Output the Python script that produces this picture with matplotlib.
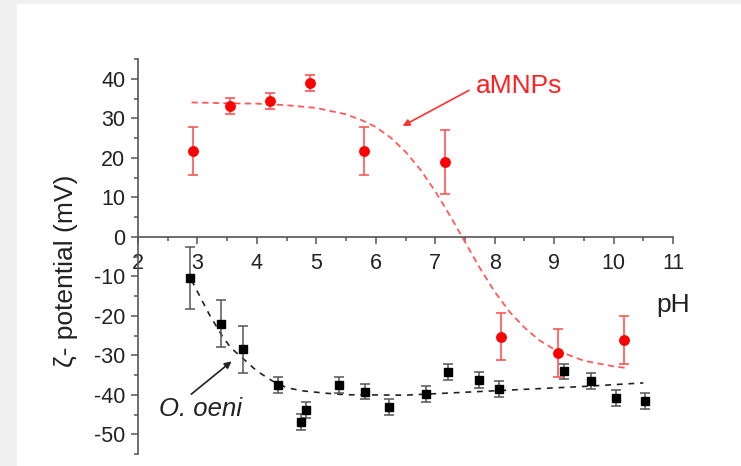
import matplotlib
matplotlib.use("Agg")
import matplotlib.pyplot as plt
from matplotlib.patches import Rectangle
from matplotlib.ticker import MultipleLocator

plt.rcParams['font.family'] = ['Liberation Sans', 'DejaVu Sans']
plt.rcParams['axes.unicode_minus'] = False

# aMNPs (red) measured points
red_ph = [2.93, 3.54, 4.22, 4.90, 5.81, 7.16, 8.10, 9.06, 10.18]
red_zeta = [21.7, 33.2, 34.4, 38.9, 21.7, 18.9, -25.3, -29.4, -26.2]
red_err = [6.0, 2.0, 2.1, 2.1, 6.0, 8.0, 6.0, 6.0, 6.1]

# aMNPs fitted curve
red_fit_ph = [2.9, 3.5, 4.0, 4.5, 5.0, 5.5, 5.75, 6.0, 6.25, 6.5, 6.75, 7.0,
              7.25, 7.5, 7.75, 8.0, 8.25, 8.5, 8.75, 9.0, 9.5, 10.0, 10.2]
red_fit = [34.0, 33.8, 33.7, 33.3, 32.6, 31.0, 29.6, 27.8, 25.1, 21.5, 17.0, 11.5,
           5.3, -1.3, -7.9, -13.9, -19.0, -23.0, -26.2, -28.5, -31.4, -32.8, -33.2]

# O. oeni (black) measured points
bk_ph = [2.88, 3.40, 3.77, 4.36, 4.74, 4.82, 5.38, 5.82, 6.23, 6.84, 7.22,
         7.73, 8.08, 9.17, 9.62, 10.04, 10.53]
bk_zeta = [-10.5, -22.0, -28.5, -37.6, -46.8, -43.8, -37.5, -39.2, -43.0, -39.9,
           -34.2, -36.2, -38.6, -34.1, -36.5, -40.8, -41.5]
bk_err = [7.8, 6.0, 6.0, 2.0, 2.0, 2.0, 2.0, 2.0, 2.0, 2.0, 2.0, 2.0, 2.0,
          2.0, 2.0, 2.0, 2.0]

# O. oeni trend line
bk_fit_ph = [2.9, 3.2, 3.42, 3.56, 3.75, 4.0, 4.26, 4.5, 4.76, 5.15, 5.5,
             6.5, 8.0, 9.5, 10.5]
bk_fit = [-11.0, -19.7, -25.2, -28.1, -30.6, -34.0, -36.5, -38.2, -39.0, -39.6,
          -40.0, -40.1, -39.0, -37.9, -37.0]

fig = plt.figure(figsize=(7.41, 4.66), dpi=100, facecolor='#f0f0f0')
fig.patches.append(Rectangle((17/741, 0), 1, 1 - 4/466, transform=fig.transFigure,
                             facecolor='white', edgecolor='none', zorder=-10))

ax = fig.add_axes([138/741, 1 - 454/466, 535/741, 395/466])
ax.patch.set_visible(False)

# curves
ax.plot(red_fit_ph, red_fit, color='#ff5a5a', lw=1.3, dashes=(3.5, 2.4), zorder=2)
ax.plot(bk_fit_ph, bk_fit, color='#222222', lw=1.2, dashes=(3.5, 3.5), zorder=2)

# points with error bars
ax.errorbar(red_ph, red_zeta, yerr=red_err, fmt='o', color='#ff0000', ms=6.8,
            ecolor='#ff5555', elinewidth=1.2, capsize=3.5, capthick=1.2, zorder=3)
ax.errorbar(bk_ph, bk_zeta, yerr=bk_err, fmt='s', color='black', ms=5.8,
            ecolor='#555555', elinewidth=1.1, capsize=3.5, capthick=1.1, zorder=3)

# axes styling
ax.set_xlim(2, 11)
ax.set_ylim(-55, 45)
for s in ['top', 'right']:
    ax.spines[s].set_visible(False)
ax.spines['bottom'].set_position(('data', 0))
for s in ['left', 'bottom']:
    ax.spines[s].set_color('#555555')
    ax.spines[s].set_linewidth(1.2)

ax.xaxis.set_major_locator(MultipleLocator(1))
ax.xaxis.set_minor_locator(MultipleLocator(0.5))
ax.yaxis.set_major_locator(MultipleLocator(10))
ax.yaxis.set_minor_locator(MultipleLocator(5))
ax.tick_params(which='major', direction='out', length=5, width=1.1, color='#555555',
               labelsize=15.5, labelcolor='#222222', pad=4)
ax.tick_params(axis='x', which='major', pad=7)
ax.tick_params(which='minor', direction='out', length=3, width=1.1, color='#555555')

# labels and annotations
fig.text(66/741, 1 - 271/466, 'ζ- potential (mV)', rotation=90, ha='center',
         va='center', fontsize=19, color='#222222')
ax.text(11.0, -17.2, 'pH', ha='center', va='center', fontsize=19, color='#222222')

ax.text(7.685, 38.2, 'aMNPs', ha='left', va='center', fontsize=19, color='#ff2020')
ax.annotate('', xy=(6.41, 27.7), xytext=(7.61, 37.4),
            arrowprops=dict(arrowstyle='-|>', color='#ff3030', lw=1.2, mutation_scale=10))

ax.text(2.35, -43.7, 'O. oeni', ha='left', va='center', fontsize=18.5,
        style='italic', color='#222222')
ax.annotate('', xy=(3.61, -31.1), xytext=(2.86, -40.3),
            arrowprops=dict(arrowstyle='-|>', color='#222222', lw=1.2, mutation_scale=10))

fig.savefig('out.png', dpi=100, facecolor=fig.get_facecolor())
